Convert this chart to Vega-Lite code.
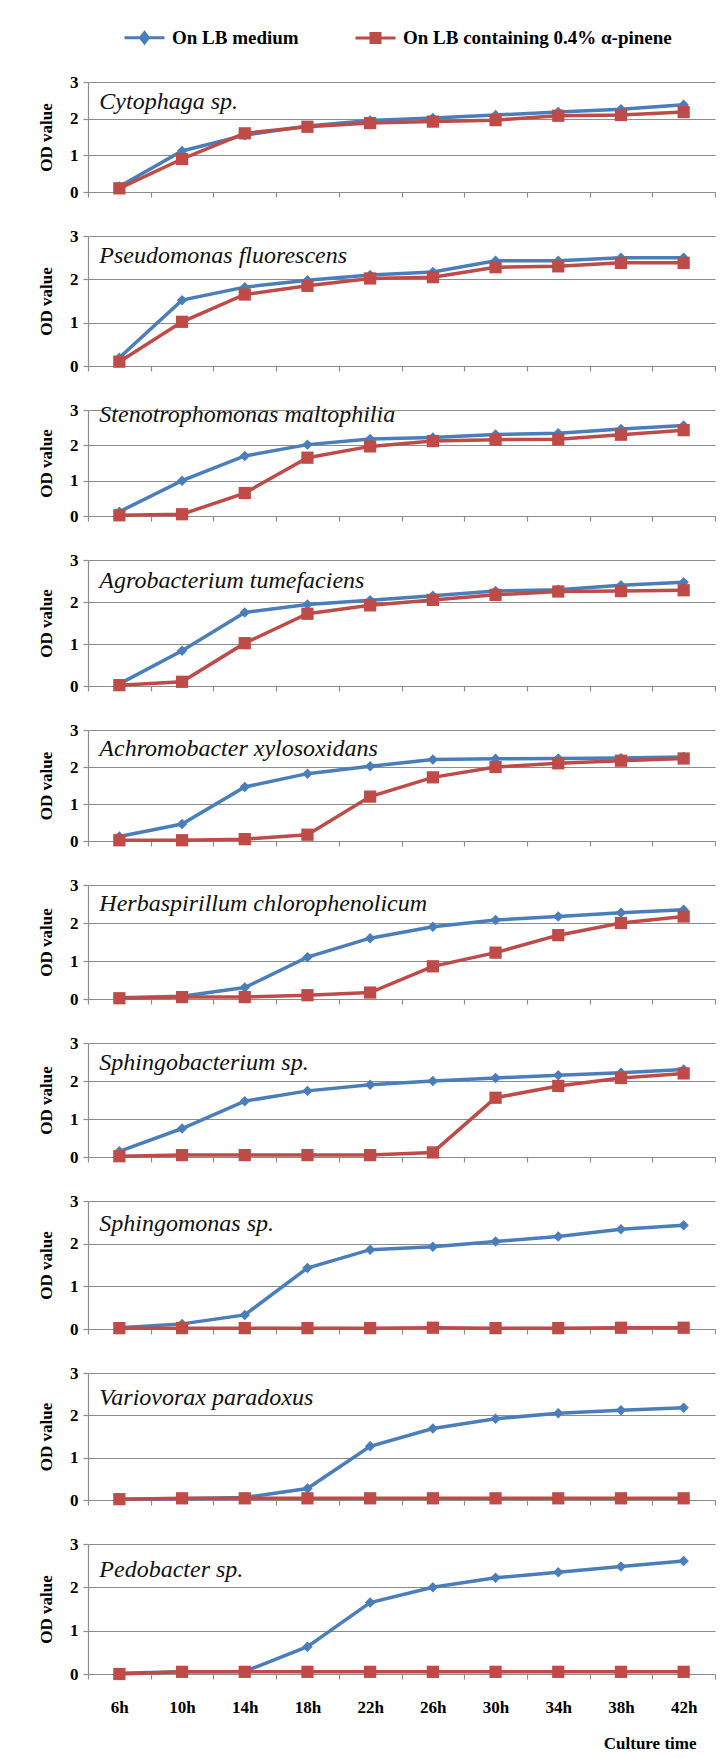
{
"$schema": "https://vega.github.io/schema/vega-lite/v6.json",
"padding": {"left": 37, "top": 28, "right": 0, "bottom": 0},
"background": "white",
"bounds": "flush",
"spacing": 44,
"datasets": {"od": [
{"sp":"Cytophaga sp.","t":"6h","lb":0.15,"pin":0.1},{"sp":"Cytophaga sp.","t":"10h","lb":1.12,"pin":0.9},{"sp":"Cytophaga sp.","t":"14h","lb":1.55,"pin":1.6},{"sp":"Cytophaga sp.","t":"18h","lb":1.8,"pin":1.78},{"sp":"Cytophaga sp.","t":"22h","lb":1.95,"pin":1.88},{"sp":"Cytophaga sp.","t":"26h","lb":2.02,"pin":1.92},{"sp":"Cytophaga sp.","t":"30h","lb":2.1,"pin":1.96},{"sp":"Cytophaga sp.","t":"34h","lb":2.18,"pin":2.08},{"sp":"Cytophaga sp.","t":"38h","lb":2.26,"pin":2.1},{"sp":"Cytophaga sp.","t":"42h","lb":2.38,"pin":2.18},
{"sp":"Pseudomonas fluorescens","t":"6h","lb":0.19,"pin":0.1},{"sp":"Pseudomonas fluorescens","t":"10h","lb":1.52,"pin":1.02},{"sp":"Pseudomonas fluorescens","t":"14h","lb":1.82,"pin":1.65},{"sp":"Pseudomonas fluorescens","t":"18h","lb":1.98,"pin":1.85},{"sp":"Pseudomonas fluorescens","t":"22h","lb":2.1,"pin":2.02},{"sp":"Pseudomonas fluorescens","t":"26h","lb":2.17,"pin":2.05},{"sp":"Pseudomonas fluorescens","t":"30h","lb":2.43,"pin":2.28},{"sp":"Pseudomonas fluorescens","t":"34h","lb":2.43,"pin":2.3},{"sp":"Pseudomonas fluorescens","t":"38h","lb":2.5,"pin":2.38},{"sp":"Pseudomonas fluorescens","t":"42h","lb":2.5,"pin":2.38},
{"sp":"Stenotrophomonas maltophilia","t":"6h","lb":0.12,"pin":0.02},{"sp":"Stenotrophomonas maltophilia","t":"10h","lb":1.0,"pin":0.05},{"sp":"Stenotrophomonas maltophilia","t":"14h","lb":1.7,"pin":0.65},{"sp":"Stenotrophomonas maltophilia","t":"18h","lb":2.02,"pin":1.65},{"sp":"Stenotrophomonas maltophilia","t":"22h","lb":2.18,"pin":1.97},{"sp":"Stenotrophomonas maltophilia","t":"26h","lb":2.22,"pin":2.12},{"sp":"Stenotrophomonas maltophilia","t":"30h","lb":2.31,"pin":2.16},{"sp":"Stenotrophomonas maltophilia","t":"34h","lb":2.34,"pin":2.17},{"sp":"Stenotrophomonas maltophilia","t":"38h","lb":2.46,"pin":2.3},{"sp":"Stenotrophomonas maltophilia","t":"42h","lb":2.56,"pin":2.43},
{"sp":"Agrobacterium tumefaciens","t":"6h","lb":0.05,"pin":0.02},{"sp":"Agrobacterium tumefaciens","t":"10h","lb":0.84,"pin":0.1},{"sp":"Agrobacterium tumefaciens","t":"14h","lb":1.75,"pin":1.02},{"sp":"Agrobacterium tumefaciens","t":"18h","lb":1.94,"pin":1.72},{"sp":"Agrobacterium tumefaciens","t":"22h","lb":2.04,"pin":1.92},{"sp":"Agrobacterium tumefaciens","t":"26h","lb":2.15,"pin":2.05},{"sp":"Agrobacterium tumefaciens","t":"30h","lb":2.26,"pin":2.17},{"sp":"Agrobacterium tumefaciens","t":"34h","lb":2.29,"pin":2.25},{"sp":"Agrobacterium tumefaciens","t":"38h","lb":2.4,"pin":2.26},{"sp":"Agrobacterium tumefaciens","t":"42h","lb":2.47,"pin":2.28},
{"sp":"Achromobacter xylosoxidans","t":"6h","lb":0.12,"pin":0.02},{"sp":"Achromobacter xylosoxidans","t":"10h","lb":0.46,"pin":0.02},{"sp":"Achromobacter xylosoxidans","t":"14h","lb":1.46,"pin":0.05},{"sp":"Achromobacter xylosoxidans","t":"18h","lb":1.82,"pin":0.17},{"sp":"Achromobacter xylosoxidans","t":"22h","lb":2.02,"pin":1.2},{"sp":"Achromobacter xylosoxidans","t":"26h","lb":2.2,"pin":1.72},{"sp":"Achromobacter xylosoxidans","t":"30h","lb":2.22,"pin":2.0},{"sp":"Achromobacter xylosoxidans","t":"34h","lb":2.23,"pin":2.1},{"sp":"Achromobacter xylosoxidans","t":"38h","lb":2.24,"pin":2.17},{"sp":"Achromobacter xylosoxidans","t":"42h","lb":2.27,"pin":2.23},
{"sp":"Herbaspirillum chlorophenolicum","t":"6h","lb":0.03,"pin":0.02},{"sp":"Herbaspirillum chlorophenolicum","t":"10h","lb":0.07,"pin":0.05},{"sp":"Herbaspirillum chlorophenolicum","t":"14h","lb":0.3,"pin":0.05},{"sp":"Herbaspirillum chlorophenolicum","t":"18h","lb":1.1,"pin":0.1},{"sp":"Herbaspirillum chlorophenolicum","t":"22h","lb":1.6,"pin":0.17},{"sp":"Herbaspirillum chlorophenolicum","t":"26h","lb":1.9,"pin":0.86},{"sp":"Herbaspirillum chlorophenolicum","t":"30h","lb":2.08,"pin":1.22},{"sp":"Herbaspirillum chlorophenolicum","t":"34h","lb":2.17,"pin":1.68},{"sp":"Herbaspirillum chlorophenolicum","t":"38h","lb":2.27,"pin":2.0},{"sp":"Herbaspirillum chlorophenolicum","t":"42h","lb":2.35,"pin":2.17},
{"sp":"Sphingobacterium sp.","t":"6h","lb":0.15,"pin":0.02},{"sp":"Sphingobacterium sp.","t":"10h","lb":0.75,"pin":0.05},{"sp":"Sphingobacterium sp.","t":"14h","lb":1.47,"pin":0.05},{"sp":"Sphingobacterium sp.","t":"18h","lb":1.74,"pin":0.05},{"sp":"Sphingobacterium sp.","t":"22h","lb":1.9,"pin":0.05},{"sp":"Sphingobacterium sp.","t":"26h","lb":2.0,"pin":0.12},{"sp":"Sphingobacterium sp.","t":"30h","lb":2.08,"pin":1.56},{"sp":"Sphingobacterium sp.","t":"34h","lb":2.15,"pin":1.87},{"sp":"Sphingobacterium sp.","t":"38h","lb":2.22,"pin":2.08},{"sp":"Sphingobacterium sp.","t":"42h","lb":2.3,"pin":2.2},
{"sp":"Sphingomonas sp.","t":"6h","lb":0.03,"pin":0.02},{"sp":"Sphingomonas sp.","t":"10h","lb":0.12,"pin":0.02},{"sp":"Sphingomonas sp.","t":"14h","lb":0.33,"pin":0.02},{"sp":"Sphingomonas sp.","t":"18h","lb":1.43,"pin":0.02},{"sp":"Sphingomonas sp.","t":"22h","lb":1.86,"pin":0.02},{"sp":"Sphingomonas sp.","t":"26h","lb":1.93,"pin":0.03},{"sp":"Sphingomonas sp.","t":"30h","lb":2.05,"pin":0.02},{"sp":"Sphingomonas sp.","t":"34h","lb":2.17,"pin":0.02},{"sp":"Sphingomonas sp.","t":"38h","lb":2.34,"pin":0.03},{"sp":"Sphingomonas sp.","t":"42h","lb":2.43,"pin":0.03},
{"sp":"Variovorax paradoxus","t":"6h","lb":0.02,"pin":0.02},{"sp":"Variovorax paradoxus","t":"10h","lb":0.03,"pin":0.04},{"sp":"Variovorax paradoxus","t":"14h","lb":0.06,"pin":0.04},{"sp":"Variovorax paradoxus","t":"18h","lb":0.27,"pin":0.04},{"sp":"Variovorax paradoxus","t":"22h","lb":1.27,"pin":0.04},{"sp":"Variovorax paradoxus","t":"26h","lb":1.69,"pin":0.04},{"sp":"Variovorax paradoxus","t":"30h","lb":1.92,"pin":0.04},{"sp":"Variovorax paradoxus","t":"34h","lb":2.05,"pin":0.04},{"sp":"Variovorax paradoxus","t":"38h","lb":2.12,"pin":0.04},{"sp":"Variovorax paradoxus","t":"42h","lb":2.18,"pin":0.04},
{"sp":"Pedobacter sp.","t":"6h","lb":0.02,"pin":0.0},{"sp":"Pedobacter sp.","t":"10h","lb":0.05,"pin":0.05},{"sp":"Pedobacter sp.","t":"14h","lb":0.06,"pin":0.05},{"sp":"Pedobacter sp.","t":"18h","lb":0.63,"pin":0.05},{"sp":"Pedobacter sp.","t":"22h","lb":1.65,"pin":0.05},{"sp":"Pedobacter sp.","t":"26h","lb":2.0,"pin":0.05},{"sp":"Pedobacter sp.","t":"30h","lb":2.22,"pin":0.05},{"sp":"Pedobacter sp.","t":"34h","lb":2.35,"pin":0.05},{"sp":"Pedobacter sp.","t":"38h","lb":2.48,"pin":0.05},{"sp":"Pedobacter sp.","t":"42h","lb":2.61,"pin":0.05}
]},
"vconcat": [
{"width":627,"height":110,"data":{"name":"od"},"transform":[{"filter":"datum.sp == 'Cytophaga sp.'"},{"fold":["lb","pin"],"as":["cond","od"]}],
 "encoding":{"x":{"field":"t","type":"ordinal","sort":["6h","10h","14h","18h","22h","26h","30h","34h","38h","42h"],"scale":{"type":"band","paddingInner":0,"paddingOuter":0},"axis":{"labels":false,"title":null,"tickBand":"extent","grid":false}},
  "y":{"field":"od","type":"quantitative","scale":{"domain":[0,3],"nice":false},"axis":{"values":[0,1,2,3],"format":"d","title":"OD value","grid":true}},
  "color":{"field":"cond","type":"nominal","scale":{"domain":["lb","pin"],"range":["#4A7EBB","#BE4B48"]},"legend":{"orient":"none","legendX":47,"legendY":-54,"direction":"horizontal","title":null,"labelExpr":"datum.value == 'lb' ? 'On LB medium' : 'On LB containing 0.4% α-pinene'","labelFont":"Liberation Serif","labelFontWeight":"bold","labelFontSize":19,"labelColor":"#000","labelLimit":500,"symbolSize":100,"labelOffset":18,"columnPadding":50,"encode":{"symbols":{"update":{"shape":{"signal":"datum.value == 'lb' ? 'M-4,0H4M-0.8,0L0,-1L0.8,0L0,1Z' : 'M-4,0H4M-0.9,-0.9H0.9V0.9H-0.9Z'"},"stroke":{"signal":"datum.value == 'lb' ? '#4A7EBB' : '#BE4B48'"},"fill":{"signal":"datum.value == 'lb' ? '#4A7EBB' : '#BE4B48'"},"strokeWidth":{"value":3},"opacity":{"value":1}}}}}}},
 "layer":[
  {"transform":[{"filter":"datum.cond == 'lb'"}],"mark":{"type":"line","strokeWidth":3.5}},
  {"transform":[{"filter":"datum.cond == 'lb'"}],"mark":{"type":"point","shape":"diamond","filled":true,"size":110,"opacity":1}},
  {"transform":[{"filter":"datum.cond == 'pin'"}],"mark":{"type":"line","strokeWidth":3.5}},
  {"transform":[{"filter":"datum.cond == 'pin'"}],"mark":{"type":"point","shape":"square","filled":true,"size":150,"opacity":1}},
  {"transform":[{"filter":"datum.t == '6h' && datum.cond == 'lb'"}],"mark":{"type":"text","align":"left","baseline":"middle","dx":-20,"font":"Liberation Serif","fontStyle":"italic","fontSize":24},"encoding":{"y":{"datum":2.45},"text":{"field":"sp"},"color":{"value":"#111"}}}
 ]},
{"width":627,"height":130,"data":{"name":"od"},"transform":[{"filter":"datum.sp == 'Pseudomonas fluorescens'"},{"fold":["lb","pin"],"as":["cond","od"]}],
 "encoding":{"x":{"field":"t","type":"ordinal","sort":["6h","10h","14h","18h","22h","26h","30h","34h","38h","42h"],"scale":{"type":"band","paddingInner":0,"paddingOuter":0},"axis":{"labels":false,"title":null,"tickBand":"extent","grid":false}},
  "y":{"field":"od","type":"quantitative","scale":{"domain":[0,3],"nice":false},"axis":{"values":[0,1,2,3],"format":"d","title":"OD value","grid":true}},
  "color":{"field":"cond","type":"nominal","scale":{"domain":["lb","pin"],"range":["#4A7EBB","#BE4B48"]}}},
 "layer":[
  {"transform":[{"filter":"datum.cond == 'lb'"}],"mark":{"type":"line","strokeWidth":3.5}},
  {"transform":[{"filter":"datum.cond == 'lb'"}],"mark":{"type":"point","shape":"diamond","filled":true,"size":110,"opacity":1}},
  {"transform":[{"filter":"datum.cond == 'pin'"}],"mark":{"type":"line","strokeWidth":3.5}},
  {"transform":[{"filter":"datum.cond == 'pin'"}],"mark":{"type":"point","shape":"square","filled":true,"size":150,"opacity":1}},
  {"transform":[{"filter":"datum.t == '6h' && datum.cond == 'lb'"}],"mark":{"type":"text","align":"left","baseline":"middle","dx":-20,"font":"Liberation Serif","fontStyle":"italic","fontSize":24},"encoding":{"y":{"datum":2.55},"text":{"field":"sp"},"color":{"value":"#111"}}}
 ]},
{"width":627,"height":106,"data":{"name":"od"},"transform":[{"filter":"datum.sp == 'Stenotrophomonas maltophilia'"},{"fold":["lb","pin"],"as":["cond","od"]}],
 "encoding":{"x":{"field":"t","type":"ordinal","sort":["6h","10h","14h","18h","22h","26h","30h","34h","38h","42h"],"scale":{"type":"band","paddingInner":0,"paddingOuter":0},"axis":{"labels":false,"title":null,"tickBand":"extent","grid":false}},
  "y":{"field":"od","type":"quantitative","scale":{"domain":[0,3],"nice":false},"axis":{"values":[0,1,2,3],"format":"d","title":"OD value","grid":true}},
  "color":{"field":"cond","type":"nominal","scale":{"domain":["lb","pin"],"range":["#4A7EBB","#BE4B48"]}}},
 "layer":[
  {"transform":[{"filter":"datum.cond == 'lb'"}],"mark":{"type":"line","strokeWidth":3.5}},
  {"transform":[{"filter":"datum.cond == 'lb'"}],"mark":{"type":"point","shape":"diamond","filled":true,"size":110,"opacity":1}},
  {"transform":[{"filter":"datum.cond == 'pin'"}],"mark":{"type":"line","strokeWidth":3.5}},
  {"transform":[{"filter":"datum.cond == 'pin'"}],"mark":{"type":"point","shape":"square","filled":true,"size":150,"opacity":1}},
  {"transform":[{"filter":"datum.t == '6h' && datum.cond == 'lb'"}],"mark":{"type":"text","align":"left","baseline":"middle","dx":-20,"font":"Liberation Serif","fontStyle":"italic","fontSize":24},"encoding":{"y":{"datum":2.86},"text":{"field":"sp"},"color":{"value":"#111"}}}
 ]},
{"width":627,"height":126,"data":{"name":"od"},"transform":[{"filter":"datum.sp == 'Agrobacterium tumefaciens'"},{"fold":["lb","pin"],"as":["cond","od"]}],
 "encoding":{"x":{"field":"t","type":"ordinal","sort":["6h","10h","14h","18h","22h","26h","30h","34h","38h","42h"],"scale":{"type":"band","paddingInner":0,"paddingOuter":0},"axis":{"labels":false,"title":null,"tickBand":"extent","grid":false}},
  "y":{"field":"od","type":"quantitative","scale":{"domain":[0,3],"nice":false},"axis":{"values":[0,1,2,3],"format":"d","title":"OD value","grid":true}},
  "color":{"field":"cond","type":"nominal","scale":{"domain":["lb","pin"],"range":["#4A7EBB","#BE4B48"]}}},
 "layer":[
  {"transform":[{"filter":"datum.cond == 'lb'"}],"mark":{"type":"line","strokeWidth":3.5}},
  {"transform":[{"filter":"datum.cond == 'lb'"}],"mark":{"type":"point","shape":"diamond","filled":true,"size":110,"opacity":1}},
  {"transform":[{"filter":"datum.cond == 'pin'"}],"mark":{"type":"line","strokeWidth":3.5}},
  {"transform":[{"filter":"datum.cond == 'pin'"}],"mark":{"type":"point","shape":"square","filled":true,"size":150,"opacity":1}},
  {"transform":[{"filter":"datum.t == '6h' && datum.cond == 'lb'"}],"mark":{"type":"text","align":"left","baseline":"middle","dx":-20,"font":"Liberation Serif","fontStyle":"italic","fontSize":24},"encoding":{"y":{"datum":2.5},"text":{"field":"sp"},"color":{"value":"#111"}}}
 ]},
{"width":627,"height":111,"data":{"name":"od"},"transform":[{"filter":"datum.sp == 'Achromobacter xylosoxidans'"},{"fold":["lb","pin"],"as":["cond","od"]}],
 "encoding":{"x":{"field":"t","type":"ordinal","sort":["6h","10h","14h","18h","22h","26h","30h","34h","38h","42h"],"scale":{"type":"band","paddingInner":0,"paddingOuter":0},"axis":{"labels":false,"title":null,"tickBand":"extent","grid":false}},
  "y":{"field":"od","type":"quantitative","scale":{"domain":[0,3],"nice":false},"axis":{"values":[0,1,2,3],"format":"d","title":"OD value","grid":true}},
  "color":{"field":"cond","type":"nominal","scale":{"domain":["lb","pin"],"range":["#4A7EBB","#BE4B48"]}}},
 "layer":[
  {"transform":[{"filter":"datum.cond == 'lb'"}],"mark":{"type":"line","strokeWidth":3.5}},
  {"transform":[{"filter":"datum.cond == 'lb'"}],"mark":{"type":"point","shape":"diamond","filled":true,"size":110,"opacity":1}},
  {"transform":[{"filter":"datum.cond == 'pin'"}],"mark":{"type":"line","strokeWidth":3.5}},
  {"transform":[{"filter":"datum.cond == 'pin'"}],"mark":{"type":"point","shape":"square","filled":true,"size":150,"opacity":1}},
  {"transform":[{"filter":"datum.t == '6h' && datum.cond == 'lb'"}],"mark":{"type":"text","align":"left","baseline":"middle","dx":-20,"font":"Liberation Serif","fontStyle":"italic","fontSize":24},"encoding":{"y":{"datum":2.5},"text":{"field":"sp"},"color":{"value":"#111"}}}
 ]},
{"width":627,"height":114,"data":{"name":"od"},"transform":[{"filter":"datum.sp == 'Herbaspirillum chlorophenolicum'"},{"fold":["lb","pin"],"as":["cond","od"]}],
 "encoding":{"x":{"field":"t","type":"ordinal","sort":["6h","10h","14h","18h","22h","26h","30h","34h","38h","42h"],"scale":{"type":"band","paddingInner":0,"paddingOuter":0},"axis":{"labels":false,"title":null,"tickBand":"extent","grid":false}},
  "y":{"field":"od","type":"quantitative","scale":{"domain":[0,3],"nice":false},"axis":{"values":[0,1,2,3],"format":"d","title":"OD value","grid":true}},
  "color":{"field":"cond","type":"nominal","scale":{"domain":["lb","pin"],"range":["#4A7EBB","#BE4B48"]}}},
 "layer":[
  {"transform":[{"filter":"datum.cond == 'lb'"}],"mark":{"type":"line","strokeWidth":3.5}},
  {"transform":[{"filter":"datum.cond == 'lb'"}],"mark":{"type":"point","shape":"diamond","filled":true,"size":110,"opacity":1}},
  {"transform":[{"filter":"datum.cond == 'pin'"}],"mark":{"type":"line","strokeWidth":3.5}},
  {"transform":[{"filter":"datum.cond == 'pin'"}],"mark":{"type":"point","shape":"square","filled":true,"size":150,"opacity":1}},
  {"transform":[{"filter":"datum.t == '6h' && datum.cond == 'lb'"}],"mark":{"type":"text","align":"left","baseline":"middle","dx":-20,"font":"Liberation Serif","fontStyle":"italic","fontSize":24},"encoding":{"y":{"datum":2.5},"text":{"field":"sp"},"color":{"value":"#111"}}}
 ]},
{"width":627,"height":114,"data":{"name":"od"},"transform":[{"filter":"datum.sp == 'Sphingobacterium sp.'"},{"fold":["lb","pin"],"as":["cond","od"]}],
 "encoding":{"x":{"field":"t","type":"ordinal","sort":["6h","10h","14h","18h","22h","26h","30h","34h","38h","42h"],"scale":{"type":"band","paddingInner":0,"paddingOuter":0},"axis":{"labels":false,"title":null,"tickBand":"extent","grid":false}},
  "y":{"field":"od","type":"quantitative","scale":{"domain":[0,3],"nice":false},"axis":{"values":[0,1,2,3],"format":"d","title":"OD value","grid":true}},
  "color":{"field":"cond","type":"nominal","scale":{"domain":["lb","pin"],"range":["#4A7EBB","#BE4B48"]}}},
 "layer":[
  {"transform":[{"filter":"datum.cond == 'lb'"}],"mark":{"type":"line","strokeWidth":3.5}},
  {"transform":[{"filter":"datum.cond == 'lb'"}],"mark":{"type":"point","shape":"diamond","filled":true,"size":110,"opacity":1}},
  {"transform":[{"filter":"datum.cond == 'pin'"}],"mark":{"type":"line","strokeWidth":3.5}},
  {"transform":[{"filter":"datum.cond == 'pin'"}],"mark":{"type":"point","shape":"square","filled":true,"size":150,"opacity":1}},
  {"transform":[{"filter":"datum.t == '6h' && datum.cond == 'lb'"}],"mark":{"type":"text","align":"left","baseline":"middle","dx":-20,"font":"Liberation Serif","fontStyle":"italic","fontSize":24},"encoding":{"y":{"datum":2.48},"text":{"field":"sp"},"color":{"value":"#111"}}}
 ]},
{"width":627,"height":128,"data":{"name":"od"},"transform":[{"filter":"datum.sp == 'Sphingomonas sp.'"},{"fold":["lb","pin"],"as":["cond","od"]}],
 "encoding":{"x":{"field":"t","type":"ordinal","sort":["6h","10h","14h","18h","22h","26h","30h","34h","38h","42h"],"scale":{"type":"band","paddingInner":0,"paddingOuter":0},"axis":{"labels":false,"title":null,"tickBand":"extent","grid":false}},
  "y":{"field":"od","type":"quantitative","scale":{"domain":[0,3],"nice":false},"axis":{"values":[0,1,2,3],"format":"d","title":"OD value","grid":true}},
  "color":{"field":"cond","type":"nominal","scale":{"domain":["lb","pin"],"range":["#4A7EBB","#BE4B48"]}}},
 "layer":[
  {"transform":[{"filter":"datum.cond == 'lb'"}],"mark":{"type":"line","strokeWidth":3.5}},
  {"transform":[{"filter":"datum.cond == 'lb'"}],"mark":{"type":"point","shape":"diamond","filled":true,"size":110,"opacity":1}},
  {"transform":[{"filter":"datum.cond == 'pin'"}],"mark":{"type":"line","strokeWidth":3.5}},
  {"transform":[{"filter":"datum.cond == 'pin'"}],"mark":{"type":"point","shape":"square","filled":true,"size":150,"opacity":1}},
  {"transform":[{"filter":"datum.t == '6h' && datum.cond == 'lb'"}],"mark":{"type":"text","align":"left","baseline":"middle","dx":-20,"font":"Liberation Serif","fontStyle":"italic","fontSize":24},"encoding":{"y":{"datum":2.46},"text":{"field":"sp"},"color":{"value":"#111"}}}
 ]},
{"width":627,"height":127,"data":{"name":"od"},"transform":[{"filter":"datum.sp == 'Variovorax paradoxus'"},{"fold":["lb","pin"],"as":["cond","od"]}],
 "encoding":{"x":{"field":"t","type":"ordinal","sort":["6h","10h","14h","18h","22h","26h","30h","34h","38h","42h"],"scale":{"type":"band","paddingInner":0,"paddingOuter":0},"axis":{"labels":false,"title":null,"tickBand":"extent","grid":false}},
  "y":{"field":"od","type":"quantitative","scale":{"domain":[0,3],"nice":false},"axis":{"values":[0,1,2,3],"format":"d","title":"OD value","grid":true}},
  "color":{"field":"cond","type":"nominal","scale":{"domain":["lb","pin"],"range":["#4A7EBB","#BE4B48"]}}},
 "layer":[
  {"transform":[{"filter":"datum.cond == 'lb'"}],"mark":{"type":"line","strokeWidth":3.5}},
  {"transform":[{"filter":"datum.cond == 'lb'"}],"mark":{"type":"point","shape":"diamond","filled":true,"size":110,"opacity":1}},
  {"transform":[{"filter":"datum.cond == 'pin'"}],"mark":{"type":"line","strokeWidth":3.5}},
  {"transform":[{"filter":"datum.cond == 'pin'"}],"mark":{"type":"point","shape":"square","filled":true,"size":150,"opacity":1}},
  {"transform":[{"filter":"datum.t == '6h' && datum.cond == 'lb'"}],"mark":{"type":"text","align":"left","baseline":"middle","dx":-20,"font":"Liberation Serif","fontStyle":"italic","fontSize":24},"encoding":{"y":{"datum":2.4},"text":{"field":"sp"},"color":{"value":"#111"}}}
 ]},
{"width":627,"height":130,"data":{"name":"od"},"transform":[{"filter":"datum.sp == 'Pedobacter sp.'"},{"fold":["lb","pin"],"as":["cond","od"]}],
 "encoding":{"x":{"field":"t","type":"ordinal","sort":["6h","10h","14h","18h","22h","26h","30h","34h","38h","42h"],"scale":{"type":"band","paddingInner":0,"paddingOuter":0},"axis":{"labels":true,"labelAngle":0,"labelPadding":20,"title":"Culture time","titleX":608,"titleAlign":"right","titlePadding":20,"tickBand":"extent","grid":false}},
  "y":{"field":"od","type":"quantitative","scale":{"domain":[0,3],"nice":false},"axis":{"values":[0,1,2,3],"format":"d","title":"OD value","grid":true}},
  "color":{"field":"cond","type":"nominal","scale":{"domain":["lb","pin"],"range":["#4A7EBB","#BE4B48"]}}},
 "layer":[
  {"transform":[{"filter":"datum.cond == 'lb'"}],"mark":{"type":"line","strokeWidth":3.5}},
  {"transform":[{"filter":"datum.cond == 'lb'"}],"mark":{"type":"point","shape":"diamond","filled":true,"size":110,"opacity":1}},
  {"transform":[{"filter":"datum.cond == 'pin'"}],"mark":{"type":"line","strokeWidth":3.5}},
  {"transform":[{"filter":"datum.cond == 'pin'"}],"mark":{"type":"point","shape":"square","filled":true,"size":150,"opacity":1}},
  {"transform":[{"filter":"datum.t == '6h' && datum.cond == 'lb'"}],"mark":{"type":"text","align":"left","baseline":"middle","dx":-20,"font":"Liberation Serif","fontStyle":"italic","fontSize":24},"encoding":{"y":{"datum":2.39},"text":{"field":"sp"},"color":{"value":"#111"}}}
 ]}
],
"config": {
 "view": {"stroke": null},
 "font": "Liberation Serif",
 "axis": {"labelFont": "Liberation Serif", "labelFontWeight": "bold", "labelFontSize": 17, "labelColor": "#000", "titleFont": "Liberation Serif", "titleFontWeight": "bold", "titleFontSize": 17, "titleColor": "#000", "domainColor": "#8C8C8C", "tickColor": "#8C8C8C", "gridColor": "#8C8C8C", "gridOpacity": 1, "domainWidth": 1.2, "tickSize": 5, "tickWidth": 1.2, "gridWidth": 1.2},
 "axisY": {"labelPadding": 5, "titlePadding": 14},
 "axisX": {"labelAngle": 0}
}
}
